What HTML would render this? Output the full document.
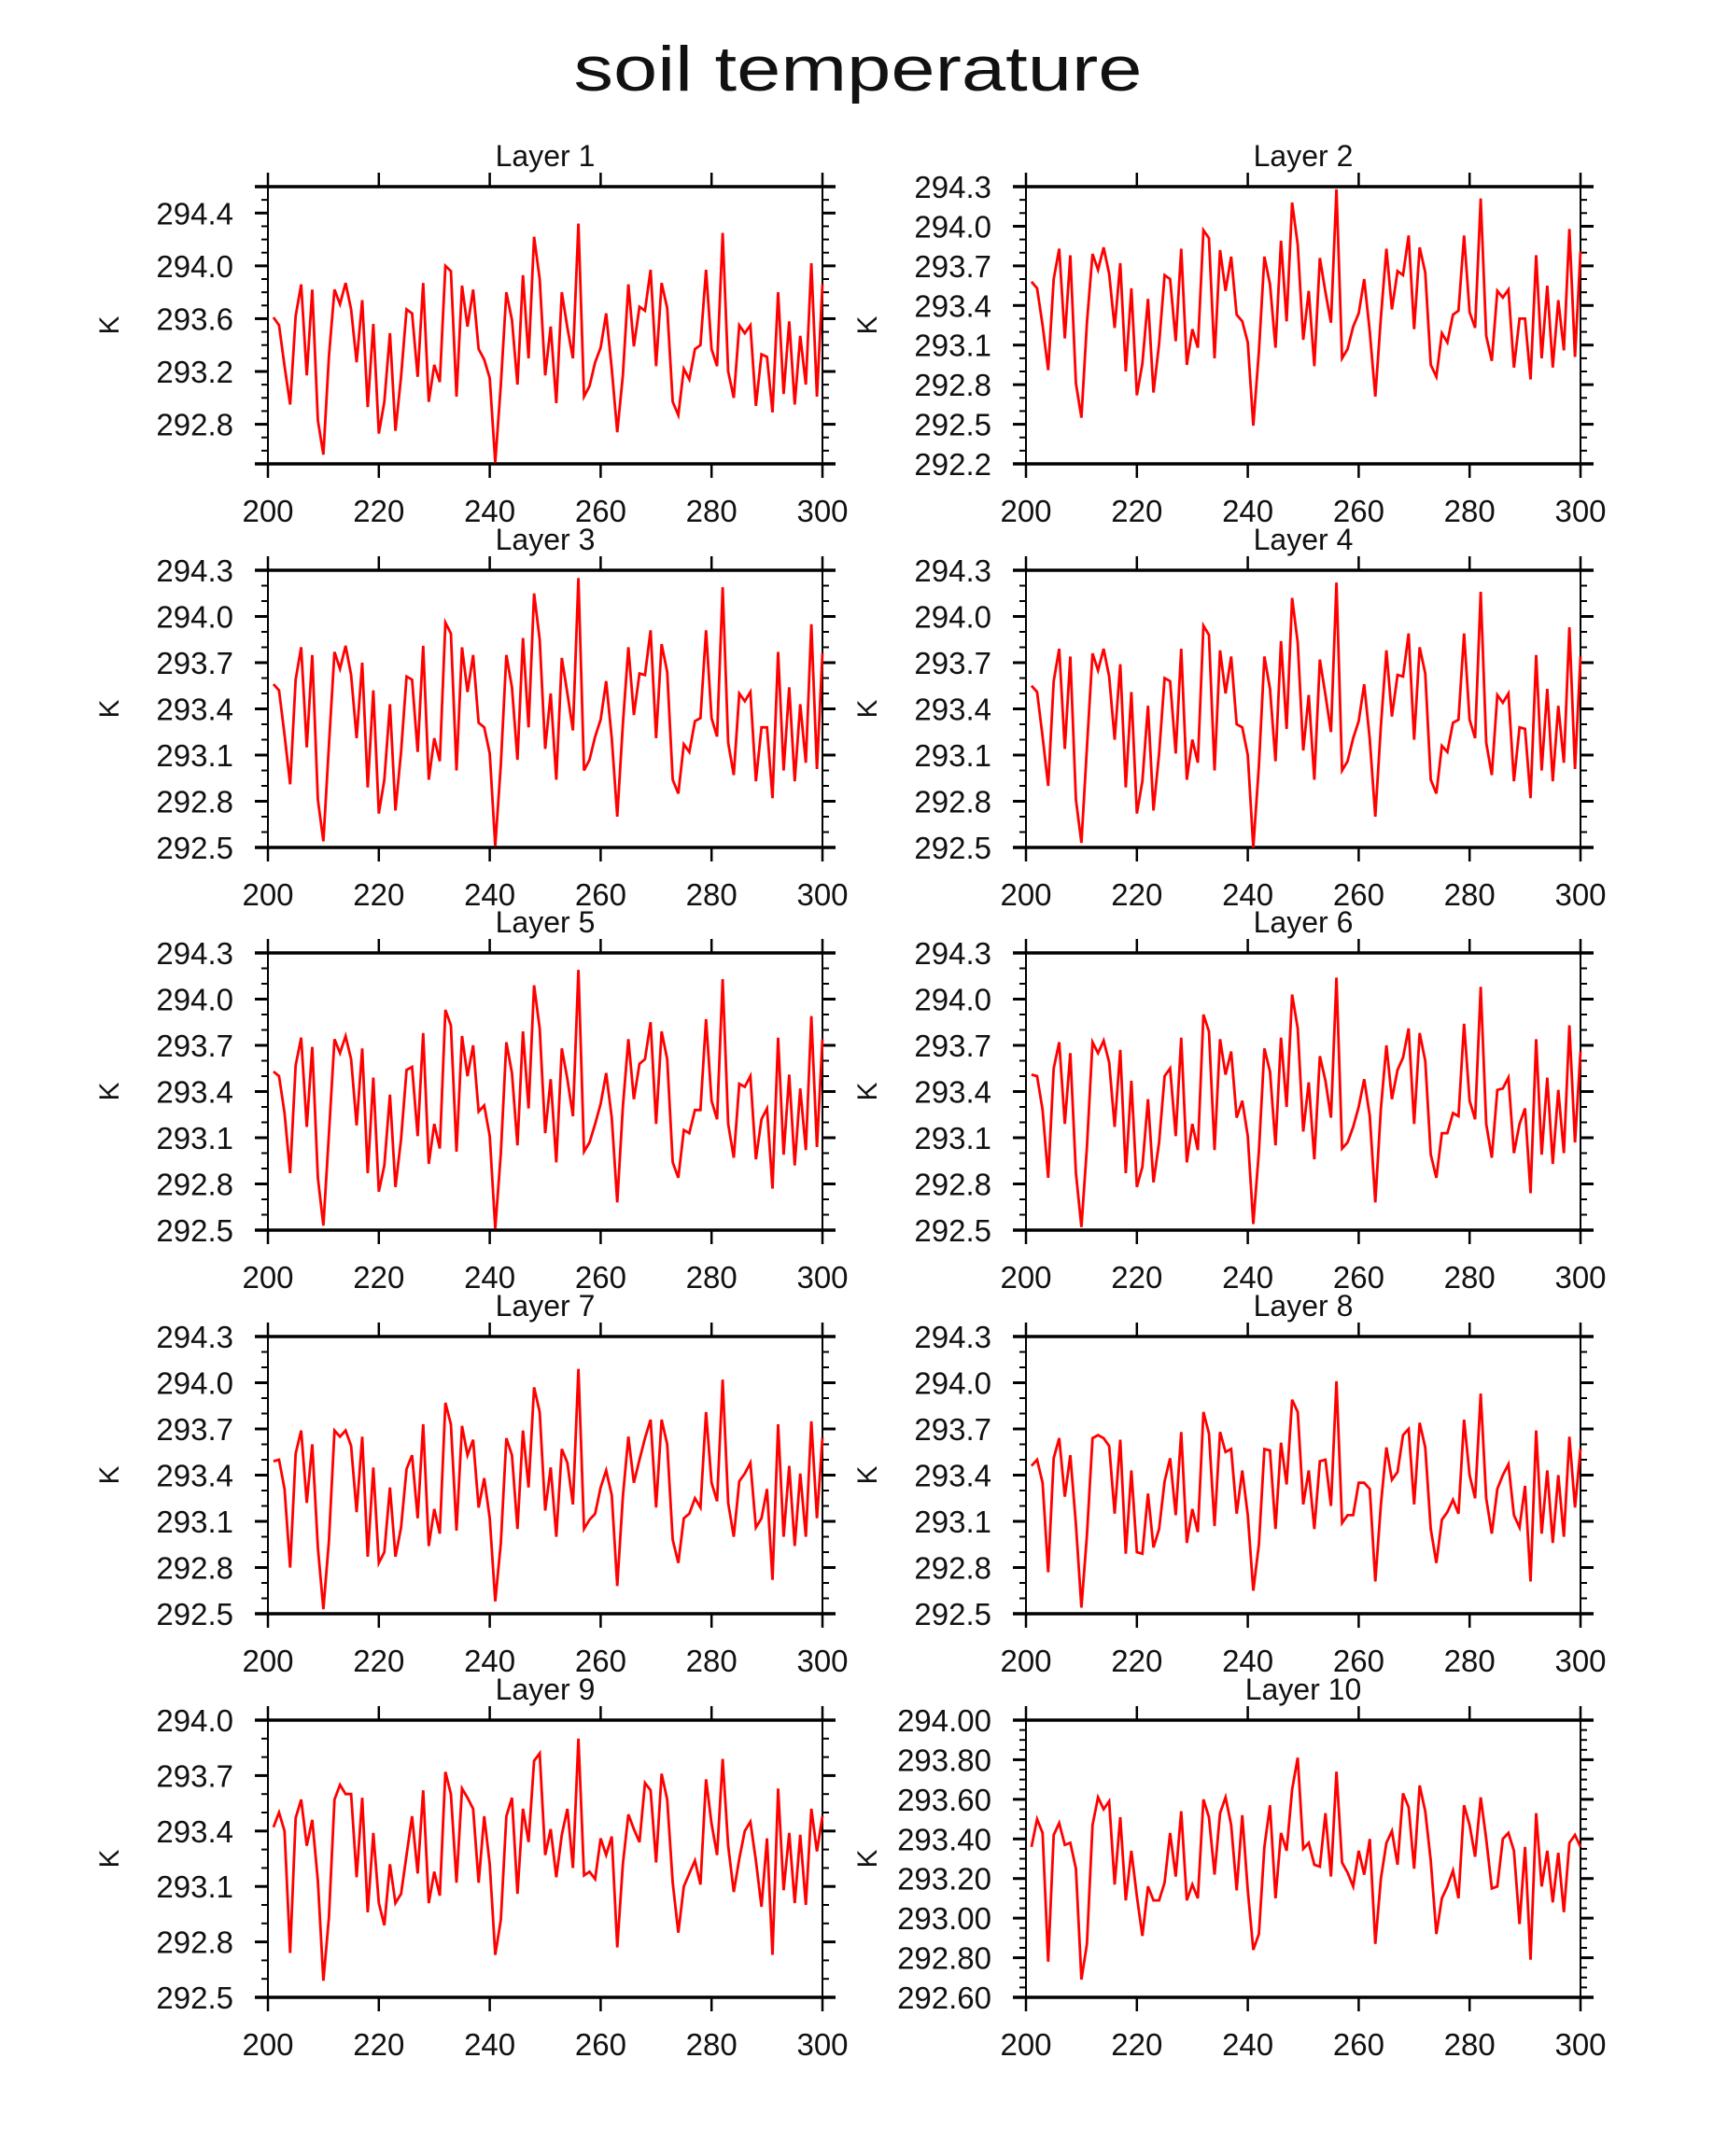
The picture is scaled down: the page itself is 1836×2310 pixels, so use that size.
<!DOCTYPE html>
<html><head><meta charset="utf-8"><title>soil temperature</title>
<style>
html,body{margin:0;padding:0;background:#fff;}
svg{display:block;}
text{font-family:"Liberation Sans",sans-serif;fill:#111;}
</style></head>
<body>
<svg id="chart" width="1836" height="2310" viewBox="0 0 1836 2310" xmlns="http://www.w3.org/2000/svg">
<rect x="0" y="0" width="1836" height="2310" fill="#fff"/>
<text x="919" y="97" font-size="68" text-anchor="middle" textLength="609" lengthAdjust="spacingAndGlyphs">soil  temperature</text>
</svg>
<script>
const xStart = 201;
const xTickLabels = ["200","220","240","260","280","300"];
const layer1 = [293.61,293.55,293.24,292.95,293.62,293.86,293.17,293.82,292.83,292.57,293.31,293.82,293.71,293.87,293.67,293.27,293.74,292.93,293.56,292.73,292.97,293.49,292.75,293.16,293.67,293.64,293.16,293.87,292.97,293.25,293.12,294.00,293.96,293.01,293.85,293.54,293.82,293.37,293.29,293.15,292.51,293.10,293.80,293.59,293.10,293.93,293.30,294.22,293.90,293.17,293.54,292.96,293.80,293.53,293.30,294.32,293.01,293.09,293.27,293.38,293.64,293.22,292.74,293.17,293.86,293.39,293.69,293.66,293.97,293.24,293.87,293.68,292.97,292.87,293.22,293.14,293.37,293.40,293.97,293.37,293.24,294.25,293.20,293.00,293.55,293.49,293.55,292.94,293.33,293.31,292.89,293.80,293.03,293.58,292.95,293.47,293.10,294.02,293.01,293.86];
const layer2 = [293.58,293.53,293.25,292.91,293.60,293.83,293.15,293.78,292.81,292.55,293.27,293.79,293.67,293.84,293.64,293.23,293.72,292.90,293.53,292.72,292.96,293.45,292.74,293.11,293.63,293.60,293.13,293.83,292.95,293.22,293.08,293.97,293.91,293.00,293.82,293.51,293.77,293.33,293.28,293.12,292.49,293.05,293.77,293.56,293.08,293.89,293.28,294.18,293.86,293.14,293.51,292.94,293.76,293.50,293.27,294.28,293.00,293.07,293.24,293.34,293.60,293.20,292.71,293.31,293.83,293.37,293.66,293.63,293.93,293.22,293.84,293.65,292.95,292.86,293.19,293.12,293.33,293.36,293.93,293.35,293.23,294.21,293.17,292.98,293.51,293.46,293.52,292.93,293.30,293.30,292.84,293.78,293.00,293.55,292.93,293.44,293.06,293.98,293.01,293.81];
const layer3 = [293.56,293.52,293.23,292.91,293.59,293.80,293.15,293.75,292.81,292.54,293.16,293.77,293.66,293.81,293.62,293.21,293.70,292.89,293.52,292.72,292.94,293.43,292.74,293.12,293.61,293.59,293.12,293.81,292.94,293.21,293.06,293.96,293.89,293.00,293.80,293.51,293.75,293.31,293.28,293.11,292.51,293.04,293.75,293.54,293.07,293.86,293.28,294.15,293.85,293.14,293.50,292.94,293.73,293.50,293.26,294.25,293.00,293.07,293.22,293.33,293.58,293.21,292.70,293.30,293.80,293.36,293.63,293.62,293.91,293.21,293.82,293.64,292.94,292.85,293.17,293.12,293.32,293.34,293.91,293.34,293.22,294.19,293.18,292.97,293.50,293.45,293.51,292.93,293.28,293.28,292.82,293.77,293.00,293.54,292.93,293.43,293.05,293.95,293.01,293.76];
const layer4 = [293.55,293.51,293.22,292.90,293.58,293.79,293.14,293.74,292.81,292.53,293.15,293.76,293.65,293.79,293.61,293.20,293.69,292.89,293.51,292.72,292.93,293.42,292.74,293.11,293.60,293.58,293.11,293.79,292.94,293.20,293.05,293.94,293.88,293.00,293.78,293.50,293.74,293.30,293.28,293.10,292.50,293.03,293.74,293.53,293.06,293.84,293.27,294.12,293.83,293.13,293.49,292.94,293.72,293.49,293.25,294.22,293.00,293.06,293.21,293.32,293.56,293.20,292.70,293.29,293.78,293.35,293.62,293.61,293.89,293.20,293.80,293.63,292.94,292.85,293.16,293.12,293.31,293.33,293.89,293.33,293.21,294.16,293.18,292.97,293.49,293.44,293.50,292.93,293.28,293.27,292.82,293.75,293.00,293.53,292.93,293.42,293.05,293.93,293.01,293.74];
const layer5 = [293.53,293.50,293.26,292.87,293.57,293.75,293.17,293.69,292.84,292.53,293.12,293.74,293.65,293.76,293.61,293.18,293.68,292.87,293.49,292.75,292.92,293.38,292.78,293.09,293.54,293.56,293.11,293.78,292.93,293.19,293.03,293.93,293.83,293.01,293.76,293.50,293.70,293.27,293.31,293.11,292.51,293.00,293.72,293.52,293.05,293.79,293.29,294.09,293.81,293.13,293.48,292.94,293.68,293.48,293.24,294.19,293.01,293.07,293.19,293.32,293.52,293.23,292.68,293.30,293.74,293.35,293.58,293.61,293.85,293.19,293.79,293.61,292.94,292.84,293.15,293.13,293.28,293.28,293.87,293.34,293.22,294.13,293.19,292.97,293.45,293.43,293.50,292.96,293.22,293.29,292.77,293.75,292.99,293.51,292.92,293.42,293.02,293.89,293.04,293.74];
const layer6 = [293.51,293.50,293.28,292.84,293.55,293.72,293.19,293.65,292.87,292.52,293.04,293.72,293.65,293.73,293.59,293.17,293.67,292.87,293.47,292.78,292.91,293.35,292.81,293.07,293.50,293.55,293.11,293.75,292.94,293.19,293.02,293.90,293.79,293.02,293.74,293.51,293.66,293.23,293.34,293.11,292.54,293.01,293.68,293.53,293.05,293.75,293.30,294.03,293.81,293.14,293.46,292.96,293.63,293.47,293.23,294.14,293.03,293.07,293.17,293.30,293.48,293.24,292.68,293.29,293.70,293.35,293.54,293.62,293.81,293.19,293.78,293.60,292.99,292.84,293.13,293.13,293.26,293.24,293.84,293.34,293.22,294.08,293.19,292.97,293.41,293.42,293.49,293.00,293.19,293.29,292.74,293.74,292.99,293.49,292.93,293.41,293.00,293.83,293.07,293.66];
const layer7 = [293.49,293.50,293.31,292.80,293.54,293.69,293.22,293.60,292.93,292.53,292.97,293.69,293.65,293.69,293.59,293.16,293.65,292.87,293.45,292.83,292.90,293.32,292.87,293.06,293.44,293.53,293.12,293.73,292.94,293.18,293.02,293.87,293.73,293.04,293.72,293.53,293.63,293.19,293.38,293.12,292.58,292.96,293.64,293.53,293.05,293.69,293.32,293.97,293.81,293.17,293.45,293.00,293.57,293.48,293.21,294.09,293.05,293.11,293.15,293.32,293.43,293.27,292.68,293.26,293.65,293.35,293.50,293.64,293.76,293.19,293.76,293.60,292.98,292.83,293.12,293.15,293.25,293.19,293.81,293.35,293.23,294.02,293.22,293.00,293.36,293.41,293.48,293.06,293.12,293.31,292.72,293.73,293.00,293.46,292.94,293.41,293.00,293.75,293.12,293.64];
const layer8 = [293.46,293.50,293.35,292.77,293.51,293.64,293.26,293.53,293.08,292.54,293.01,293.64,293.66,293.64,293.59,293.15,293.63,292.89,293.43,292.90,292.89,293.28,292.93,293.05,293.36,293.51,293.14,293.68,292.96,293.18,293.03,293.81,293.67,293.07,293.68,293.55,293.57,293.15,293.43,293.14,292.65,292.95,293.57,293.56,293.05,293.61,293.34,293.89,293.81,293.21,293.43,293.05,293.49,293.50,293.20,294.01,293.09,293.14,293.14,293.35,293.35,293.31,292.71,293.21,293.58,293.37,293.42,293.66,293.70,293.21,293.74,293.58,293.05,292.83,293.11,293.16,293.24,293.15,293.76,293.40,293.25,293.93,293.25,293.02,293.31,293.40,293.47,293.14,293.06,293.33,292.71,293.69,293.02,293.43,292.96,293.40,293.00,293.65,293.19,293.57];
const layer9 = [293.42,293.50,293.40,292.74,293.47,293.57,293.32,293.46,293.13,292.59,292.93,293.57,293.65,293.60,293.60,293.15,293.58,292.96,293.39,293.01,292.89,293.22,293.01,293.06,293.27,293.48,293.17,293.62,293.01,293.18,293.05,293.72,293.60,293.12,293.63,293.58,293.52,293.12,293.48,293.22,292.73,292.92,293.48,293.58,293.06,293.52,293.34,293.78,293.82,293.27,293.41,293.15,293.38,293.52,293.20,293.90,293.16,293.18,293.14,293.36,293.27,293.37,292.77,293.22,293.49,293.41,293.34,293.66,293.62,293.23,293.71,293.57,293.12,292.85,293.10,293.17,293.24,293.11,293.68,293.44,293.27,293.79,293.32,293.07,293.25,293.40,293.45,293.24,292.99,293.36,292.73,293.63,293.08,293.39,293.01,293.38,293.00,293.52,293.29,293.48];
const layer10 = [293.36,293.50,293.43,292.78,293.42,293.48,293.37,293.38,293.25,292.69,292.87,293.47,293.61,293.55,293.59,293.17,293.51,293.09,293.34,293.11,292.91,293.16,293.09,293.09,293.18,293.43,293.21,293.54,293.09,293.17,293.10,293.60,293.51,293.22,293.53,293.61,293.47,293.14,293.52,293.14,292.84,292.92,293.36,293.57,293.10,293.43,293.34,293.65,293.81,293.35,293.38,293.27,293.26,293.53,293.21,293.74,293.28,293.23,293.16,293.34,293.22,293.40,292.87,293.20,293.38,293.44,293.27,293.63,293.56,293.25,293.67,293.54,293.29,292.92,293.10,293.16,293.24,293.10,293.57,293.47,293.31,293.61,293.40,293.15,293.16,293.40,293.43,293.34,292.97,293.36,292.79,293.53,293.16,293.34,293.08,293.33,293.03,293.38,293.42,293.36];

const yTicks1 = ["292.8","293.2","293.6","294.0","294.4"];
const yTicks2 = ["292.2","292.5","292.8","293.1","293.4","293.7","294.0","294.3"];
const yTicks3to8 = ["292.5","292.8","293.1","293.4","293.7","294.0","294.3"];
const yTicks9 = ["292.5","292.8","293.1","293.4","293.7","294.0"];
const yTicks10 = ["292.60","292.80","293.00","293.20","293.40","293.60","293.80","294.00"];

const yMin = [292.5,292.2,292.5,292.5,292.5,292.5,292.5,292.5,292.5,292.6];
const yMax = [294.6,294.3,294.3,294.3,294.3,294.3,294.3,294.3,294.0,294.0];
const yMinor = [0.1,0.1,0.1,0.1,0.1,0.1,0.1,0.1,0.1,0.05];
const seriesList = [layer1,layer2,layer3,layer4,layer5,layer6,layer7,layer8,layer9,layer10];
const tickList = [yTicks1,yTicks2,yTicks3to8,yTicks3to8,yTicks3to8,yTicks3to8,yTicks3to8,yTicks3to8,yTicks9,yTicks10];
const titles = ["Layer 1","Layer 2","Layer 3","Layer 4","Layer 5","Layer 6","Layer 7","Layer 8","Layer 9","Layer 10"];

const NS = "http://www.w3.org/2000/svg";
const svg = document.getElementById("chart");
const colX = [287, 1099];
const rowY = [200, 611, 1021, 1432, 1843];
const PW = 594, PH = 297;

function mk(tag, attrs, parent) {
  const e = document.createElementNS(NS, tag);
  for (const k in attrs) e.setAttribute(k, attrs[k]);
  parent.appendChild(e);
  return e;
}

for (let k = 0; k < 10; k++) {
  const left = colX[k % 2], top = rowY[Math.floor(k / 2)];
  const bottom = top + PH, right = left + PW;
  const lo = yMin[k], hi = yMax[k];
  const xs = d => left + (d - 200) / 100 * PW;
  const ys = v => top + (hi - v) / (hi - lo) * PH;

  const g = mk("g", {}, svg);
  
  

  const title = mk("text", {x: left + PW / 2, y: top - 22, "font-size": 32, "text-anchor": "middle"}, g);
  title.textContent = titles[k];
  
  

  const majorVals = tickList[k].map(Number);
  const step = yMinor[k];
  const n = Math.round((hi - lo) / step);
  for (let i = 0; i <= n; i++) {
    const v = lo + i * step;
    if (majorVals.some(m => Math.abs(m - v) < 1e-6)) continue;
    const y = ys(v);
    const t1 = mk("line", {x1: left - 7, x2: left, y1: y, y2: y, stroke: "#000", "stroke-width": 2}, g);
    
    
    const t2 = mk("line", {x1: right, x2: right + 7, y1: y, y2: y, stroke: "#000", "stroke-width": 2}, g);
    
    
  }
  tickList[k].forEach(lbl => {
    const y = ys(Number(lbl));
    const t1 = mk("line", {x1: left - 14, x2: left, y1: y, y2: y, stroke: "#000", "stroke-width": 3}, g);
    
    
    const t2 = mk("line", {x1: right, x2: right + 14, y1: y, y2: y, stroke: "#000", "stroke-width": 3}, g);
    
    
    const tx = mk("text", {x: left - 37, y: y + 12, "font-size": 33, "text-anchor": "end"}, g);
    tx.textContent = lbl;
    
    
  });
  xTickLabels.forEach(lbl => {
    const x = xs(Number(lbl));
    const t1 = mk("line", {x1: x, x2: x, y1: top - 15, y2: top, stroke: "#000", "stroke-width": 2.5}, g);
    
    
    const t2 = mk("line", {x1: x, x2: x, y1: bottom, y2: bottom + 15, stroke: "#000", "stroke-width": 2.5}, g);
    
    
    const tx = mk("text", {x: x, y: bottom + 62, "font-size": 33, "text-anchor": "middle"}, g);
    tx.textContent = lbl;
    
    
  });
  const fr = mk("rect", {x: left, y: top, width: PW, height: PH, fill: "none", stroke: "#000", "stroke-width": 2}, g);
  
  
  [top, bottom].forEach(yy => {
    const l = mk("line", {x1: left - 14, x2: right + 14, y1: yy, y2: yy, stroke: "#000", "stroke-width": 3.5}, g);
    
    
  });
  const kx = left - 160, ky = top + PH / 2;
  const kl = mk("text", {x: kx, y: ky, "font-size": 30, "text-anchor": "middle", transform: "rotate(-90 " + kx + " " + ky + ")"}, g);
  kl.textContent = "K";
  
  
  const data = seriesList[k];
  const pts = data.map((v, i) => xs(xStart + i).toFixed(1) + "," + ys(v).toFixed(1)).join(" ");
  const pl = mk("polyline", {points: pts, fill: "none", stroke: "#ff0000", "stroke-width": 2.8, "stroke-linejoin": "miter"}, g);
  
  
}
</script>
</body></html>
